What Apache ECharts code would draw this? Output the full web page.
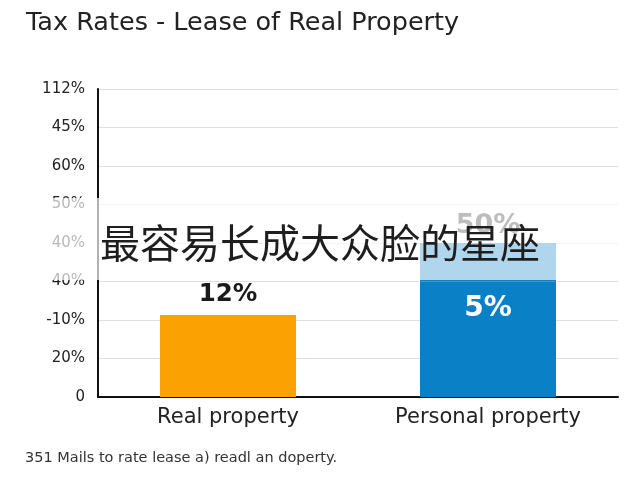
<!DOCTYPE html>
<html><head><meta charset="utf-8">
<script src="https://cdn.jsdelivr.net/npm/echarts@6/dist/echarts.min.js"></script>
<style>html,body{margin:0;padding:0;background:#fff}#c{width:640px;height:480px}</style>
</head><body><div id="c"></div>
<script>
const categories = ['Real property', 'Personal property'];
const tickLabels = ['0', '20%', '-10%', '40%', '40%', '50%', '60%', '45%', '112%'];
const baseValues = [2.13, 3];
const topValues = [null, 1];
const baseLabels = ['12%', '5%'];
const topLabels = ['', '50%'];
const titleText = 'Tax Rates - Lease of Real Property';
const footnote = '351 Mails to rate lease a) readl an doperty.';
const overlayText = '最容易长成大众脸的星座';

const chart = echarts.init(document.getElementById('c'), null, {renderer: 'canvas'});
const font = '"DejaVu Sans", sans-serif';
chart.setOption({
  animation: false,
  title: {text: titleText, left: 21, top: 5, textStyle: {fontFamily: font, fontSize: 25.5, fontWeight: 'normal', color: '#222'}},
  grid: {left: 98, right: 22, top: 89, bottom: 83},
  xAxis: {
    type: 'category', data: categories,
    axisLine: {lineStyle: {color: '#111', width: 2}},
    axisTick: {show: false},
    axisLabel: {fontFamily: font, fontSize: 21, color: '#222', margin: 10}
  },
  yAxis: {
    type: 'value', min: 0, max: 8, interval: 1,
    axisLine: {show: true, lineStyle: {color: '#111', width: 2}},
    axisTick: {show: false},
    splitLine: {lineStyle: {color: '#dedede', width: 1}},
    axisLabel: {fontFamily: font, fontSize: 15, color: '#222', margin: 13,
      formatter: v => tickLabels[Math.round(v)] }
  },
  series: [
    {type: 'bar', stack: 's', barWidth: 136,
      data: baseValues.map((v, i) => ({value: v, itemStyle: {color: i === 0 ? '#FBA102' : '#0A80C6'},
        label: i === 0
          ? {show: true, position: 'top', distance: 8, formatter: baseLabels[i], fontFamily: font, fontSize: 24.5, fontWeight: 'bold', color: '#1a1a1a'}
          : {show: true, position: 'insideTop', distance: 13, formatter: baseLabels[i], fontFamily: font, fontSize: 28, fontWeight: 'bold', color: '#fff'}
      }))},
    {type: 'bar', stack: 's', barWidth: 136,
      data: topValues.map((v, i) => ({value: v, itemStyle: {color: '#0A80C6'},
        label: {show: !!topLabels[i], position: 'top', distance: 4, formatter: topLabels[i], fontFamily: font, fontSize: 27, fontWeight: 'bold', color: '#333'}}))}
  ],
  graphic: [
    {type: 'rect', z: 100, shape: {x: 30, y: 198, width: 590, height: 82}, style: {fill: 'rgba(255,255,255,0.68)'}},
    {type: 'text', z: 101, left: 100, top: 223, style: {text: overlayText, font: '40px "Noto Sans CJK SC"', fill: '#1e1e1e'}},
    {type: 'text', z: 101, left: 25, top: 451, style: {text: footnote, font: '14.5px ' + font, fill: '#333'}}
  ]
});
</script></body></html>
